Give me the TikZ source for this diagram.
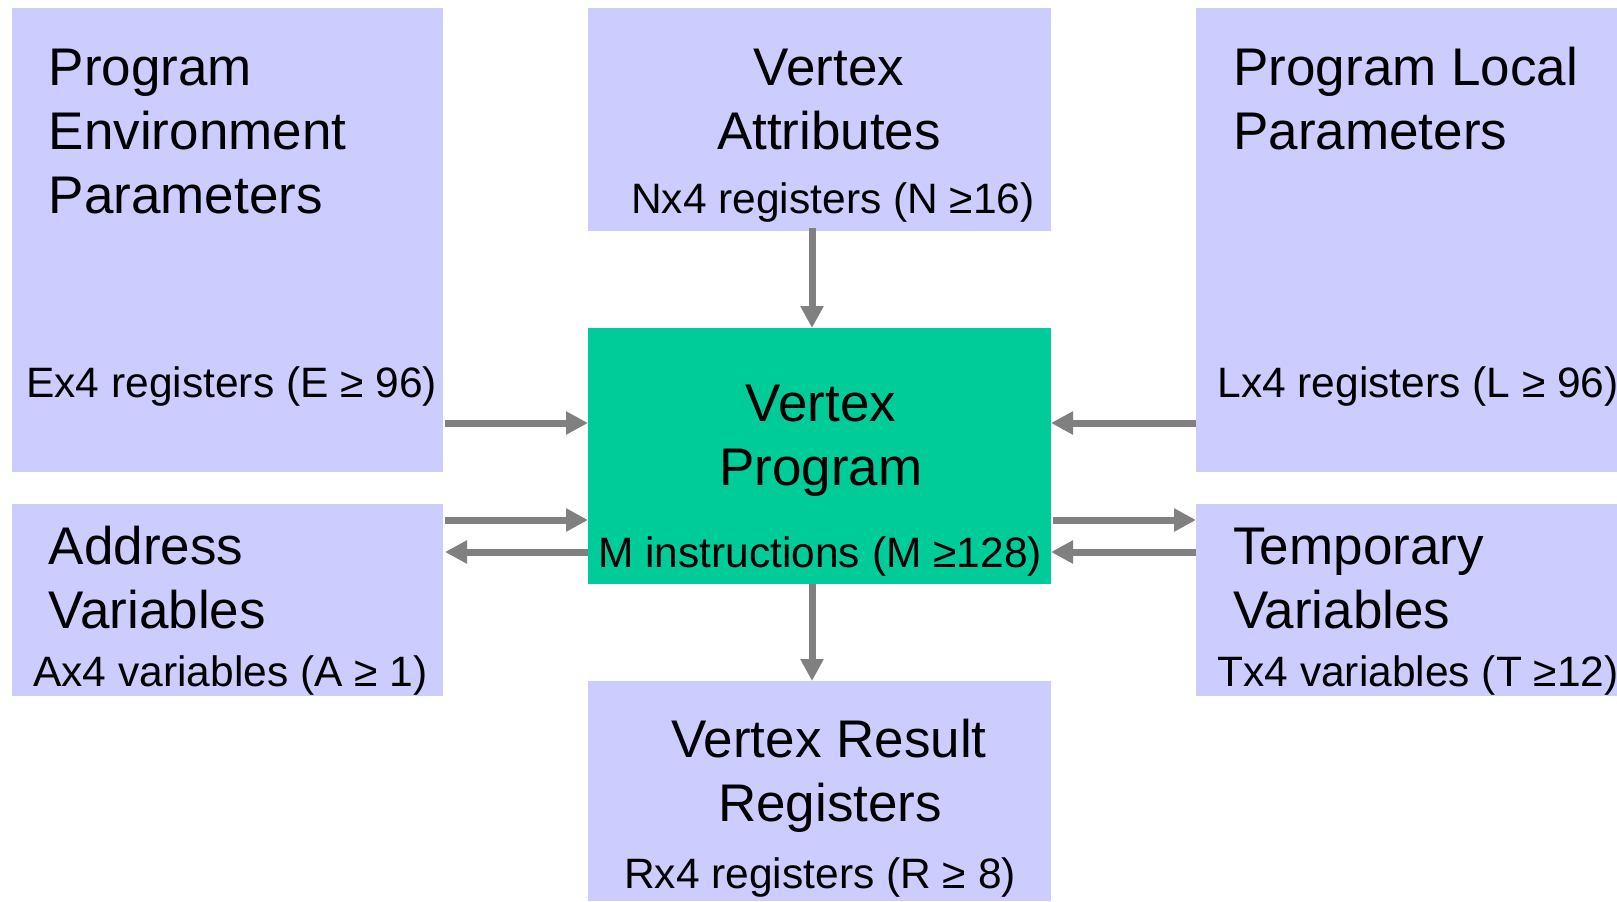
\documentclass[tikz,border=0pt]{standalone}
\usepackage{fontspec}
\setmainfont{Liberation Sans}
\usetikzlibrary{arrows.meta,fit}
\definecolor{boxfill}{HTML}{CCCCFF}
\definecolor{progfill}{HTML}{00CC99}
\definecolor{arrowgray}{HTML}{808080}
\tikzset{
  box/.style={fill=boxfill, draw=none, inner sep=0pt, outer sep=0pt},
  progbox/.style={fill=progfill, draw=none, inner sep=0pt, outer sep=0pt},
  title/.style={font=\fontsize{26.5}{32}\selectfont, inner sep=0pt},
  sub/.style={font=\fontsize{21.25}{25}\selectfont, inner sep=0pt},
  flow/.style={draw=arrowgray, line width=3.5pt, -{Triangle[length=11pt,width=11pt]}}
}
\begin{document}
\begin{tikzpicture}[x=0.5pt,y=-0.5pt]
\useasboundingbox (0,0) rectangle (1617,901);

% register blocks
\node[box, fit={(12,8)(443,472)}] (env) {};
\node[box, fit={(588,8)(1051,231)}] (attr) {};
\node[box, fit={(1196,8)(1617,472)}] (local) {};
\node[progbox, fit={(588,328)(1051,584)}] (prog) {};
\node[box, fit={(12,504)(443,696)}] (addr) {};
\node[box, fit={(1196,504)(1617,696)}] (temp) {};
\node[box, fit={(588,681)(1051,901)}] (result) {};

% labels
\node[title, anchor=base west] (envA) at (48.5,85) {Program};
\node[title, anchor=base west] (envB) at (48.5,149) {Environment};
\node[title, anchor=base west] (envC) at (48.5,213) {Parameters};
\node[sub, anchor=base west] (envD) at (26,397) {Ex4 registers (E ≥ 96)};

\node[title, anchor=base] (attrA) at (829,85) {Vertex};
\node[title, anchor=base] (attrB) at (829,149) {Attributes};
\node[sub, anchor=base] (attrC) at (833,213) {Nx4 registers (N ≥16)};

\node[title, anchor=base west] (localA) at (1233,85) {Program Local};
\node[title, anchor=base west] (localB) at (1233,149) {Parameters};
\node[sub, anchor=base west] (localC) at (1217,397) {Lx4 registers (L ≥ 96)};

\node[title, anchor=base] (progA) at (821,421) {Vertex};
\node[title, anchor=base] (progB) at (821,485) {Program};
\node[sub, anchor=base] (progC) at (820,567) {M instructions (M ≥128)};

\node[title, anchor=base west] (addrA) at (48.5,564) {Address};
\node[title, anchor=base west] (addrB) at (48.5,628) {Variables};
\node[sub, anchor=base west] (addrC) at (33,686) {Ax4 variables (A ≥ 1)};

\node[title, anchor=base west] (tempA) at (1233,564) {Temporary};
\node[title, anchor=base west] (tempB) at (1233,628) {Variables};
\node[sub, anchor=base west] (tempC) at (1217,686) {Tx4 variables (T ≥12)};

\node[title, anchor=base] (resA) at (829,757) {Vertex Result};
\node[title, anchor=base] (resB) at (830,821) {Registers};
\node[sub, anchor=base] (resC) at (820,888) {Rx4 registers (R ≥ 8)};

% data flow
\draw[flow] (attr.south -| 812,0) ++(0,-3) -- (prog.north -| 812,0);
\draw[flow] (prog.south -| 812,0) -- (result.north -| 812,0);
\draw[flow] ([xshift=1pt]env.east |- 0,423) -- (prog.west |- 0,423);
\draw[flow] (local.west |- 0,423) -- (prog.east |- 0,423);
\draw[flow] ([xshift=1pt]addr.east |- 0,520) -- (prog.west |- 0,520);
\draw[flow] (prog.west |- 0,552) -- ([xshift=1pt]addr.east |- 0,552);
\draw[flow] ([xshift=1pt]prog.east |- 0,520) -- (temp.west |- 0,520);
\draw[flow] (temp.west |- 0,552) -- (prog.east |- 0,552);
\end{tikzpicture}
\end{document}
